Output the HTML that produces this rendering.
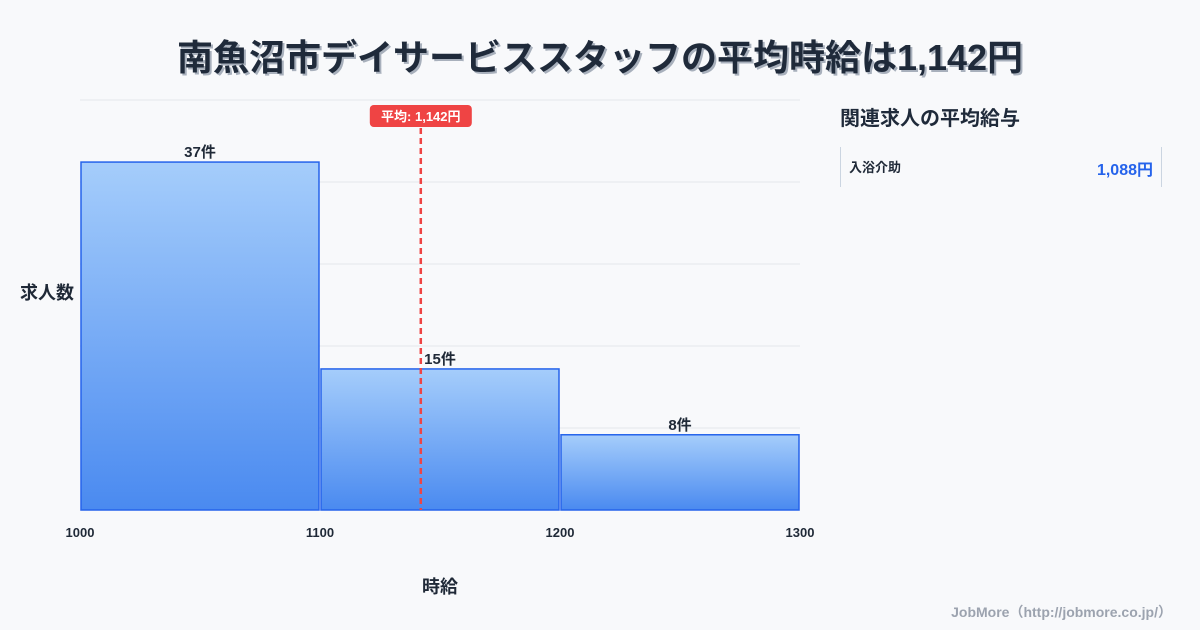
<!DOCTYPE html>
<html><head><meta charset="utf-8">
<style>
body{margin:0;width:1200px;height:630px;background:#f8f9fb;font-family:"Liberation Sans","Noto Sans CJK JP",sans-serif;position:relative;overflow:hidden;color:#1f2937}
#title{position:absolute;top:29px;left:0;width:1200px;text-align:center;font-size:36px;font-weight:bold;color:#1f2a3a;text-shadow:2px 2px 0 #a8b0bc}
#side-title{position:absolute;left:840px;top:102px;font-size:20px;font-weight:bold;color:#1f2a3a}
#side-row{position:absolute;left:840px;top:147px;width:320px;height:40px;border-left:1px solid #cbd5e1;border-right:1px solid #cbd5e1}
#side-row .n{position:absolute;left:8px;top:10px;font-size:13px;font-weight:bold}
#side-row .v{position:absolute;right:8px;top:9px;font-size:16px;font-weight:bold;color:#2563eb}
#credit{position:absolute;right:28px;top:602px;font-size:14px;font-weight:bold;color:#9ca3af}
</style></head><body>
<div id="title">南魚沼市デイサービススタッフの平均時給は1,142円</div>
<div id="side-title">関連求人の平均給与</div>
<div id="side-row"><span class="n">入浴介助</span><span class="v">1,088円</span></div>
<div id="credit">JobMore（http://jobmore.co.jp/）</div>
<svg id="chart" width="1200" height="630" style="position:absolute;left:0;top:0">
<defs><linearGradient id="g" x1="0" y1="0" x2="0" y2="1"><stop offset="0" stop-color="#a5cdfb"/><stop offset="1" stop-color="#4a8af0"/></linearGradient></defs>
</svg>
<script>
const binEdges=[1000,1100,1200,1300];
const counts=[37,15,8];
const avgWage=1142;
const ns="http://www.w3.org/2000/svg";
const svg=document.getElementById('chart');
const x0=80,x1=800,yb=510,yt=100,ymax=43.6;
const X=v=>x0+(v-binEdges[0])/(binEdges[binEdges.length-1]-binEdges[0])*(x1-x0);
const Y=v=>yb-v/ymax*(yb-yt);
function mk(t,a,txt){const e=document.createElementNS(ns,t);for(const k in a)e.setAttribute(k,a[k]);if(txt!=null)e.textContent=txt;svg.appendChild(e);return e;}
for(let i=0;i<=5;i++){const y=yt+i*(yb-yt)/5;
const g=mk('line',{x1:x0,x2:x1,y1:y,y2:y,stroke:'#e5e7eb','stroke-width':1});

}
counts.forEach((c,i)=>{
const r=mk('rect',{x:X(binEdges[i])+1,y:Y(c),width:X(binEdges[i+1])-X(binEdges[i])-2,height:yb-Y(c),fill:'url(#g)',stroke:'#2563eb','stroke-width':1.5});


const t=mk('text',{x:(X(binEdges[i])+X(binEdges[i+1]))/2,y:Y(c)-5,'text-anchor':'middle','font-size':15,'font-weight':'bold',fill:'#1f2937'},c+'件');


});
binEdges.forEach(v=>{const t=mk('text',{x:X(v),y:537,'text-anchor':'middle','font-size':13,'font-weight':'bold',fill:'#1f2937'},v);

});
const ax=X(avgWage);
const l=mk('line',{x1:ax,x2:ax,y1:128,y2:yb,stroke:'#ef4444','stroke-width':2.5,'stroke-dasharray':'6,4'});


const b=mk('rect',{x:ax-51,y:105,width:102,height:22,rx:4,fill:'#ef4444'});


const bt=mk('text',{x:ax,y:121,'text-anchor':'middle','font-size':13,'font-weight':'bold',fill:'#fff'},'平均: 1,142円');


const yl=mk('text',{x:20,y:299,'font-size':18,'font-weight':'bold',fill:'#1f2937'},'求人数');


const xl=mk('text',{x:440,y:593,'text-anchor':'middle','font-size':18,'font-weight':'bold',fill:'#1f2937'},'時給');


</script>
</body></html>
